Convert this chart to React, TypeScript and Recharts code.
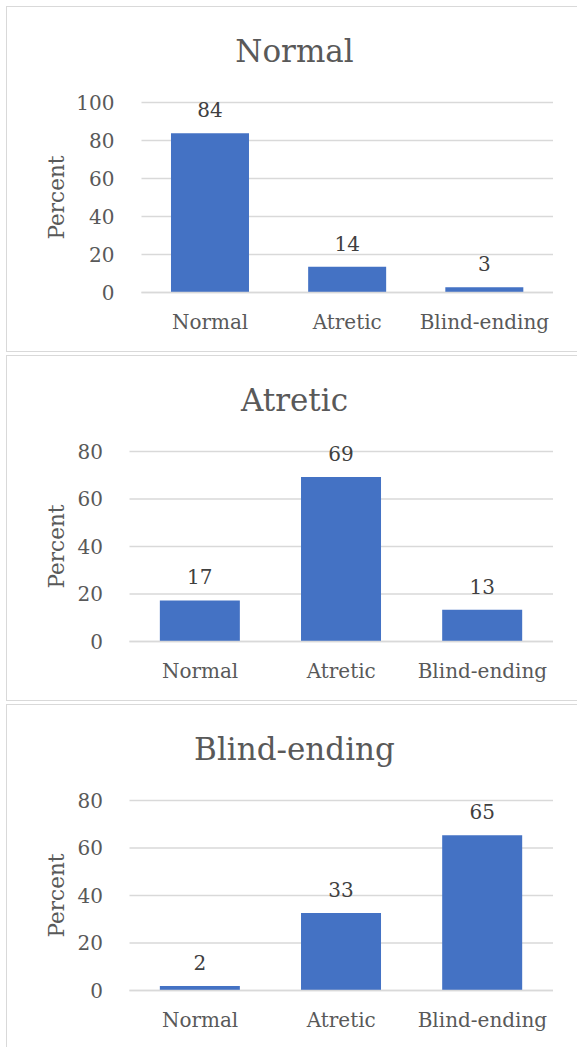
import React from 'react';
import { BarChart, Bar, XAxis, YAxis, CartesianGrid, LabelList } from 'recharts';

const categories = ['Normal', 'Atretic', 'Blind-ending'];
const panelTitles = ['Normal', 'Atretic', 'Blind-ending'];
const normalGroup = [83.8, 13.5, 2.7];
const atreticGroup = [17.3, 69.3, 13.4];
const blindGroup = [1.9, 32.6, 65.4];
const ticks100 = [0, 20, 40, 60, 80, 100];
const ticks80 = [0, 20, 40, 60, 80];

// Liberation Serif is not installed here, DejaVu Serif is the closest serif face
const FONT = 'DejaVu Serif, serif';
const TEXT = '#595959';
const GRID = '#d9d9d9';
const BAR = '#4472c4';

const PANEL_H = 346;
const PLOT_TOP = 96.5;
const PLOT_BOTTOM = 286.5;

interface PanelProps {
  title: string;
  values: number[];
  ticks: number[];
  top: number;
  plotLeft: number;
  yTickMargin: number;
}

const Panel: React.FC<PanelProps> = ({ title, values, ticks, top, plotLeft, yTickMargin }) => {
  const data = categories.map((name, i) => ({ name, value: values[i] }));
  const max = ticks[ticks.length - 1];

  return (
    <div style={{ position: 'absolute', left: 0, top, width: 577, height: PANEL_H }}>
      <div
        style={{
          position: 'absolute',
          left: 6,
          top: 0,
          width: 578,
          height: PANEL_H,
          border: `1.5px solid ${GRID}`,
          boxSizing: 'border-box',
        }}
      />
      <div style={{ position: 'absolute', left: 0, top: 0 }}>
        <BarChart
          width={577}
          height={PANEL_H}
          data={data}
          margin={{ top: PLOT_TOP, right: 24, bottom: 18.5, left: 0 }}
          barCategoryGap="21.5%"
        >
          <CartesianGrid vertical={false} stroke={GRID} strokeWidth={1.3} />
          <XAxis
            dataKey="name"
            height={PANEL_H - PLOT_BOTTOM - 18.5}
            axisLine={{ stroke: GRID, strokeWidth: 1.3 }}
            tickLine={false}
            tickSize={0}
            tickMargin={22}
            interval={0}
            tick={{ fill: TEXT, fontSize: 20, fontFamily: FONT }}
          />
          <YAxis
            width={plotLeft}
            domain={[0, max]}
            ticks={ticks}
            axisLine={false}
            tickLine={false}
            tickSize={0}
            tickMargin={yTickMargin}
            tick={{ fill: TEXT, fontSize: 20, fontFamily: FONT }}
          />
          <Bar dataKey="value" fill={BAR} isAnimationActive={false}>
            <LabelList
              dataKey="value"
              position="top"
              offset={16}
              formatter={(v: any) => Math.round(Number(v))}
              fill="#404040"
              fontSize={20}
              fontFamily={FONT}
            />
          </Bar>
        </BarChart>
      </div>
      <svg
        width={577}
        height={PANEL_H}
        style={{ position: 'absolute', left: 0, top: 0, pointerEvents: 'none' }}
      >
        <text x={294.5} y={55.5} textAnchor="middle" fill={TEXT} fontSize={31} fontFamily={FONT}>
          {title}
        </text>
        <text
          x={56.5}
          y={(PLOT_TOP + PLOT_BOTTOM) / 2}
          textAnchor="middle"
          dominantBaseline="central"
          transform={`rotate(-90, 56.5, ${(PLOT_TOP + PLOT_BOTTOM) / 2})`}
          fill={TEXT}
          fontSize={21.5}
          fontFamily={FONT}
        >
          Percent
        </text>
      </svg>
    </div>
  );
};

const App: React.FC = () => {
  return (
    <div
      style={{
        position: 'absolute',
        left: 0,
        top: 0,
        width: 577,
        height: 1047,
        background: '#ffffff',
        overflow: 'hidden',
      }}
    >
      <Panel title={panelTitles[0]} values={normalGroup} ticks={ticks100} top={6} plotLeft={141.5} yTickMargin={27} />
      <Panel title={panelTitles[1]} values={atreticGroup} ticks={ticks80} top={355} plotLeft={129.5} yTickMargin={26.5} />
      <Panel title={panelTitles[2]} values={blindGroup} ticks={ticks80} top={704} plotLeft={129.5} yTickMargin={26.5} />
    </div>
  );
};

export default App;
